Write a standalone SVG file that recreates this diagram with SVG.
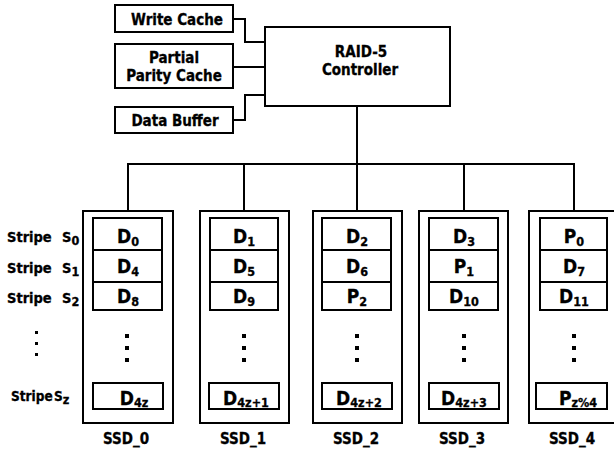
<svg xmlns="http://www.w3.org/2000/svg" width="614" height="451" viewBox="0 0 614 451">
  <style>
    .box { fill: #fff; stroke: #000; stroke-width: 2; }
    .cell { fill: #fff; stroke: #000; stroke-width: 2; }
    .wire { fill: none; stroke: #000; stroke-width: 2; }
    text { font-family: "DejaVu Sans Condensed", "DejaVu Sans", Verdana, sans-serif; font-weight: bold; fill: #000; stroke: #000; stroke-width: 0.3; }
    .lbl { font-size: 15px; text-anchor: middle; }
    .stripe { font-size: 14.5px; }
    .stripe-z { font-size: 13.5px; }
    .big { font-size: 19px; text-anchor: middle; }
    .sub { font-size: 12.5px; }
    .ssd { font-size: 15px; text-anchor: middle; }
    .dot { fill: #000; }
  </style>

  <!-- connectors -->
  <g id="connectors">
    <polyline class="wire" points="233,19 245,19 245,42 265,42"/>
    <line class="wire" x1="233" y1="67" x2="265" y2="67"/>
    <polyline class="wire" points="233,120 245,120 245,95 265,95"/>
    <line class="wire" x1="357" y1="106" x2="357" y2="164"/>
    <line class="wire" x1="127" y1="164" x2="575" y2="164"/>
    <line class="wire" x1="128" y1="164" x2="128" y2="211"/>
    <line class="wire" x1="244" y1="164" x2="244" y2="211"/>
    <line class="wire" x1="357" y1="164" x2="357" y2="211"/>
    <line class="wire" x1="464" y1="164" x2="464" y2="211"/>
    <line class="wire" x1="574" y1="164" x2="574" y2="211"/>
  </g>

  <!-- cache / buffer blocks -->
  <g id="write-cache">
    <rect class="box" x="115" y="5" width="118" height="27"/>
    <text class="lbl" x="177" y="25">Write Cache</text>
  </g>
  <g id="partial-parity-cache">
    <rect class="box" x="115" y="44" width="118" height="44"/>
    <text class="lbl" x="174" y="63">Partial</text>
    <text class="lbl" x="174" y="81">Parity Cache</text>
  </g>
  <g id="data-buffer">
    <rect class="box" x="115" y="107" width="118" height="26"/>
    <text class="lbl" x="175" y="126">Data Buffer</text>
  </g>
  <g id="controller">
    <rect class="box" x="265" y="27" width="185" height="79"/>
    <text class="lbl" x="361" y="57">RAID-5</text>
    <text class="lbl" x="360" y="75">Controller</text>
  </g>

  <!-- stripe labels -->
  <g id="stripe-labels">
    <text class="stripe" x="7" y="242">Stripe<tspan x="62">S</tspan><tspan class="sub" dy="3">0</tspan></text>
    <text class="stripe" x="7" y="273">Stripe<tspan x="62">S</tspan><tspan class="sub" dy="3">1</tspan></text>
    <text class="stripe" x="7" y="303">Stripe<tspan x="62">S</tspan><tspan class="sub" dy="3">2</tspan></text>
    <rect class="dot" x="35" y="331" width="3" height="3"/>
    <rect class="dot" x="35" y="342" width="3" height="3"/>
    <rect class="dot" x="35" y="353" width="3" height="3"/>
    <text class="stripe-z" x="11" y="401">Stripe<tspan x="54">S</tspan><tspan class="sub" dy="3">z</tspan></text>
  </g>

  <!-- SSD_0 -->
  <g id="ssd0">
    <rect class="box" x="83" y="211" width="90" height="212"/>
    <rect class="cell" x="93" y="218" width="69" height="32"/>
    <rect class="cell" x="93" y="250" width="69" height="32"/>
    <rect class="cell" x="93" y="282" width="69" height="28"/>
    <text class="big" x="128" y="243">D<tspan class="sub" dy="3">0</tspan></text>
    <text class="big" x="128" y="273">D<tspan class="sub" dy="3">4</tspan></text>
    <text class="big" x="128" y="303">D<tspan class="sub" dy="3">8</tspan></text>
    <rect class="dot" x="125" y="334" width="4" height="4"/>
    <rect class="dot" x="125" y="346" width="4" height="4"/>
    <rect class="dot" x="125" y="358" width="4" height="4"/>
    <rect class="cell" x="93" y="383" width="70" height="26"/>
    <text class="big" x="134" y="405">D<tspan class="sub" dy="2">4z</tspan></text>
    <text class="ssd" x="126" y="444">SSD_0</text>
  </g>

  <!-- SSD_1 -->
  <g id="ssd1">
    <rect class="box" x="200" y="211" width="89" height="212"/>
    <rect class="cell" x="210" y="218" width="68" height="32"/>
    <rect class="cell" x="210" y="250" width="68" height="32"/>
    <rect class="cell" x="210" y="282" width="68" height="28"/>
    <text class="big" x="244" y="243">D<tspan class="sub" dy="3">1</tspan></text>
    <text class="big" x="244" y="273">D<tspan class="sub" dy="3">5</tspan></text>
    <text class="big" x="244" y="303">D<tspan class="sub" dy="3">9</tspan></text>
    <rect class="dot" x="242" y="334" width="4" height="4"/>
    <rect class="dot" x="242" y="346" width="4" height="4"/>
    <rect class="dot" x="242" y="358" width="4" height="4"/>
    <rect class="cell" x="209" y="383" width="70" height="26"/>
    <text class="big" x="246" y="405">D<tspan class="sub" dy="2">4z+1</tspan></text>
    <text class="ssd" x="243" y="444">SSD_1</text>
  </g>

  <!-- SSD_2 -->
  <g id="ssd2">
    <rect class="box" x="313" y="211" width="89" height="212"/>
    <rect class="cell" x="322" y="218" width="69" height="32"/>
    <rect class="cell" x="322" y="250" width="69" height="32"/>
    <rect class="cell" x="322" y="282" width="69" height="28"/>
    <text class="big" x="357" y="243">D<tspan class="sub" dy="3">2</tspan></text>
    <text class="big" x="357" y="273">D<tspan class="sub" dy="3">6</tspan></text>
    <text class="big" x="357" y="303">P<tspan class="sub" dy="3">2</tspan></text>
    <rect class="dot" x="355" y="334" width="4" height="4"/>
    <rect class="dot" x="355" y="346" width="4" height="4"/>
    <rect class="dot" x="355" y="358" width="4" height="4"/>
    <rect class="cell" x="322" y="383" width="70" height="26"/>
    <text class="big" x="359" y="405">D<tspan class="sub" dy="2">4z+2</tspan></text>
    <text class="ssd" x="356" y="444">SSD_2</text>
  </g>

  <!-- SSD_3 -->
  <g id="ssd3">
    <rect class="box" x="419" y="211" width="89" height="212"/>
    <rect class="cell" x="429" y="218" width="69" height="32"/>
    <rect class="cell" x="429" y="250" width="69" height="32"/>
    <rect class="cell" x="429" y="282" width="69" height="28"/>
    <text class="big" x="464" y="243">D<tspan class="sub" dy="3">3</tspan></text>
    <text class="big" x="464" y="273">P<tspan class="sub" dy="3">1</tspan></text>
    <text class="big" x="464" y="303">D<tspan class="sub" dy="3">10</tspan></text>
    <rect class="dot" x="462" y="334" width="4" height="4"/>
    <rect class="dot" x="462" y="346" width="4" height="4"/>
    <rect class="dot" x="462" y="358" width="4" height="4"/>
    <rect class="cell" x="429" y="383" width="70" height="26"/>
    <text class="big" x="464" y="405">D<tspan class="sub" dy="2">4z+3</tspan></text>
    <text class="ssd" x="462" y="444">SSD_3</text>
  </g>

  <!-- SSD_4 -->
  <g id="ssd4">
    <rect class="box" x="529" y="211" width="90" height="212"/>
    <rect class="cell" x="540" y="218" width="67" height="32"/>
    <rect class="cell" x="540" y="250" width="67" height="32"/>
    <rect class="cell" x="540" y="282" width="67" height="28"/>
    <text class="big" x="574" y="243">P<tspan class="sub" dy="3">0</tspan></text>
    <text class="big" x="574" y="273">D<tspan class="sub" dy="3">7</tspan></text>
    <text class="big" x="574" y="303">D<tspan class="sub" dy="3">11</tspan></text>
    <rect class="dot" x="572" y="334" width="4" height="4"/>
    <rect class="dot" x="572" y="346" width="4" height="4"/>
    <rect class="dot" x="572" y="358" width="4" height="4"/>
    <rect class="cell" x="536" y="383" width="71" height="26"/>
    <text class="big" x="578" y="405">P<tspan class="sub" dy="2">z%4</tspan></text>
    <text class="ssd" x="572" y="444">SSD_4</text>
  </g>
</svg>
